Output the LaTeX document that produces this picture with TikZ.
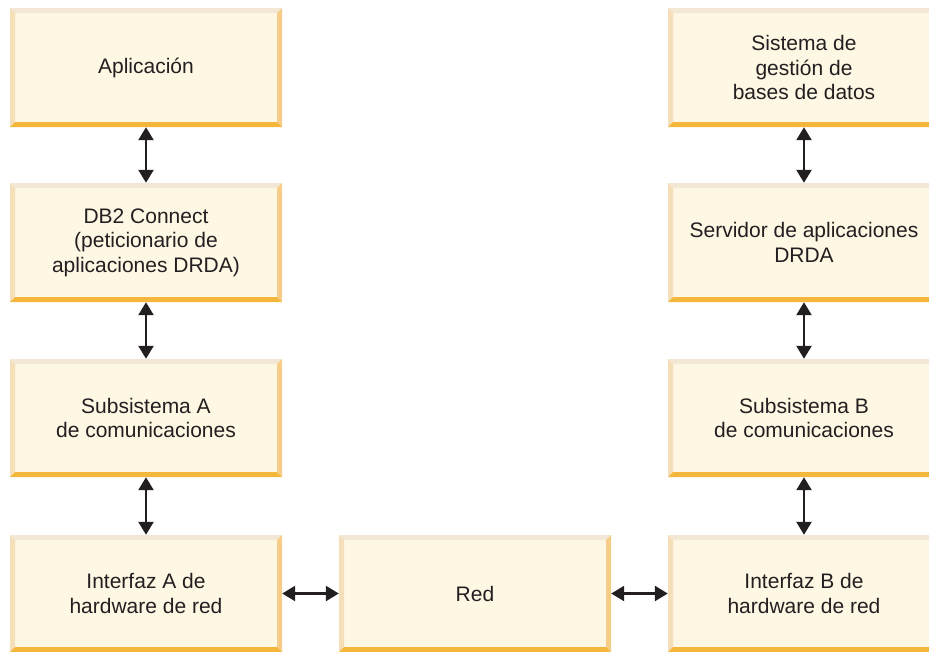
\documentclass[tikz,border=0pt]{standalone}
\usepackage{fontspec}
\setmainfont{Liberation Sans}
\usepackage{tikz}
\usepackage{xcolor}
\usetikzlibrary{arrows.meta,calc}
\definecolor{boxfill}{HTML}{FDF7E4}
\definecolor{bevtop}{HTML}{F3E8D6}
\definecolor{bevleft}{HTML}{F4DFB9}
\definecolor{bevright}{HTML}{F6CD88}
\definecolor{bevbottom}{HTML}{F5B63C}
\definecolor{ink}{HTML}{231F20}
\tikzstyle{block} = [rectangle, fill = boxfill, minimum width = 272pt, minimum height = 119pt, inner sep = 0pt, align = center, text = ink, font = \fontsize{21}{24.5}\selectfont,
  path picture = {
    \coordinate (bsw) at (path picture bounding box.south west);
    \coordinate (bne) at (path picture bounding box.north east);
    \fill [bevtop] (bsw |- bne) -- (bne) -- ($(bne) + (-5pt,-5pt)$) -- ($(bsw |- bne) + (5pt,-5pt)$) -- cycle;
    \fill [bevleft] (bsw) -- (bsw |- bne) -- ($(bsw |- bne) + (5pt,-5pt)$) -- ($(bsw) + (5pt,5pt)$) -- cycle;
    \fill [bevright] (bne) -- (bne |- bsw) -- ($(bne |- bsw) + (-5pt,5pt)$) -- ($(bne) + (-5pt,-5pt)$) -- cycle;
    \fill [bevbottom] (bsw) -- (bne |- bsw) -- ($(bne |- bsw) + (-5pt,5pt)$) -- ($(bsw) + (5pt,5pt)$) -- cycle;
  }]
\tikzstyle{link} = [{Triangle[length = 13pt, width = 15pt]}-{Triangle[length = 13pt, width = 15pt]}, draw = ink, line width = 2.4pt]

\begin{document}
\begin{tikzpicture}[x = 1pt, y = -1pt]
            \useasboundingbox (0, 0) rectangle (929, 651);
            \node (app) at (146, 67.5) [block] {Aplicación};
            \node (db2) at (146, 242.5) [block] {DB2 Connect\\(peticionario de\\aplicaciones DRDA)};
            \node (subA) at (146, 418) [block, minimum height = 118pt] {Subsistema A\\de comunicaciones};
            \node (hwA) at (146, 593.5) [block, minimum height = 117pt] {Interfaz A de\\hardware de red};
            \node (red) at (475, 593.5) [block, minimum height = 117pt] {Red};
            \node (dbms) at (804, 67.5) [block] {Sistema de\\gestión de\\bases de datos};
            \node (srv) at (804, 242.5) [block] {Servidor de aplicaciones\\DRDA};
            \node (subB) at (804, 418) [block, minimum height = 118pt] {Subsistema B\\de comunicaciones};
            \node (hwB) at (804, 593.5) [block, minimum height = 117pt] {Interfaz B de\\hardware de red};
            \draw [link] (app) -- (db2);
            \draw [link] (db2) -- (subA);
            \draw [link] (subA) -- (hwA);
            \draw [link] (hwA) -- (red);
            \draw [link] (red) -- (hwB);
            \draw [link] (hwB) -- (subB);
            \draw [link] (subB) -- (srv);
            \draw [link] (srv) -- (dbms);
        \end{tikzpicture}
\end{document}
